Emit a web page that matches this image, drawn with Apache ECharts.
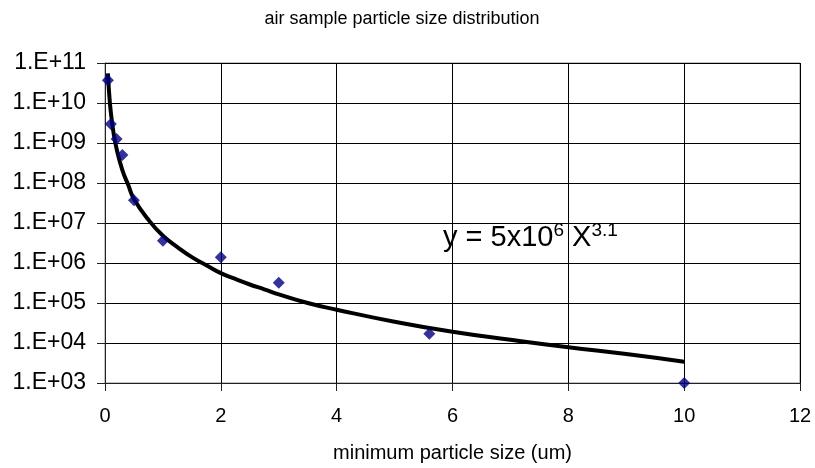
<!DOCTYPE html>
<html>
<head>
<meta charset="utf-8">
<script src="https://cdn.jsdelivr.net/npm/echarts@6/dist/echarts.min.js"></script>
<style>
html,body{margin:0;padding:0;background:#fff;}
#chart{width:815px;height:468px;}
</style>
</head>
<body>
<div id="chart"></div>
<script>
// measured data points: minimum particle size (um) and count
const sizes = [0.05, 0.1, 0.2, 0.3, 0.5, 1, 2, 3, 5.6, 10];
const counts = [3.7e10, 3.0e9, 1.25e9, 5.0e8, 3.7e7, 3.6e6, 1.4e6, 3.2e5, 1.7e4, 1.0e3];
// trend line
const trendX = [0.05, 0.07, 0.1, 0.15, 0.2, 0.3, 0.4, 0.5, 0.75, 1, 1.25, 1.5, 1.75, 2, 2.25, 2.5, 2.75, 3, 3.5, 4, 5, 6, 7, 8, 9, 10];
const trendY = [5.5e10, 1.9e10, 6.0e9, 1.7e9, 7.2e8, 2.1e8, 9.0e7, 4.0e7, 1.2e7, 4.8e6, 2.5e6, 1.4e6, 8.8e5, 5.6e5, 4.0e5, 2.9e5, 2.2e5, 1.65e5, 1.0e5, 6.8e4, 3.4e4, 1.9e4, 1.2e4, 7.8e3, 5.3e3, 3.4e3];
const xTicks = [0, 2, 4, 6, 8, 10, 12];
const yTicks = ['1.E+03','1.E+04','1.E+05','1.E+06','1.E+07','1.E+08','1.E+09','1.E+10','1.E+11'];

const chart = echarts.init(document.getElementById('chart'));
const FONT = 'Liberation Sans, Arial, sans-serif';
chart.setOption({
  animation: false,
  backgroundColor: '#fff',
  title: {
    text: 'air sample particle size distribution',
    left: 397, top: 5, textAlign: 'center',
    textStyle: {fontFamily: FONT, fontSize: 18, fontWeight: 'normal', color: '#000'}
  },
  grid: {left: 105, right: 15, top: 63, bottom: 85, show: true, borderColor: '#888', borderWidth: 1},
  xAxis: {
    type: 'value', min: 0, max: 12, interval: 2,
    name: 'minimum particle size (um)', nameLocation: 'middle', nameGap: 60,
    nameTextStyle: {fontFamily: FONT, fontSize: 20, color: '#000'},
    axisLine: {onZero: false, lineStyle: {color: '#222', width: 1}},
    axisTick: {show: true, length: 8, lineStyle: {color: '#222'}},
    axisLabel: {fontFamily: FONT, fontSize: 20, color: '#000', margin: 23,
      formatter: v => xTicks.indexOf(v) >= 0 ? String(v) : ''},
    splitLine: {show: true, lineStyle: {color: '#000', width: 1}}
  },
  yAxis: {
    type: 'log', logBase: 10, min: 1e3, max: 1e11,
    axisLine: {show: true, lineStyle: {color: '#222', width: 1}},
    axisTick: {show: true, length: 8, lineStyle: {color: '#222'}},
    axisLabel: {fontFamily: FONT, fontSize: 23, color: '#000', margin: 19,
      formatter: v => { const e = Math.round(Math.log10(v)); return yTicks[e - 3] || ''; }},
    splitLine: {show: true, lineStyle: {color: '#000', width: 1}}
  },
  series: [
    {
      type: 'line', smooth: true, showSymbol: false, symbol: 'none',
      data: trendX.map((x, i) => [x, trendY[i]]),
      lineStyle: {color: '#000', width: 4}, z: 2
    },
    {
      type: 'scatter', symbol: 'diamond', symbolSize: 12,
      data: sizes.map((x, i) => [x, counts[i]]),
      itemStyle: {color: '#000080'}, z: 3
    }
  ],
  graphic: [{
    type: 'text', left: 443, top: 221,
    style: {
      text: '{b|y = 5x10}{s|6}{b| X}{s|3.1}',
      rich: {
        b: {fontFamily: FONT, fontSize: 29, fill: '#000', verticalAlign: 'bottom'},
        s: {fontFamily: FONT, fontSize: 19, fill: '#000', verticalAlign: 'top', padding: [0,0,12,0]}
      }
    }
  }]
});
</script>
</body>
</html>
